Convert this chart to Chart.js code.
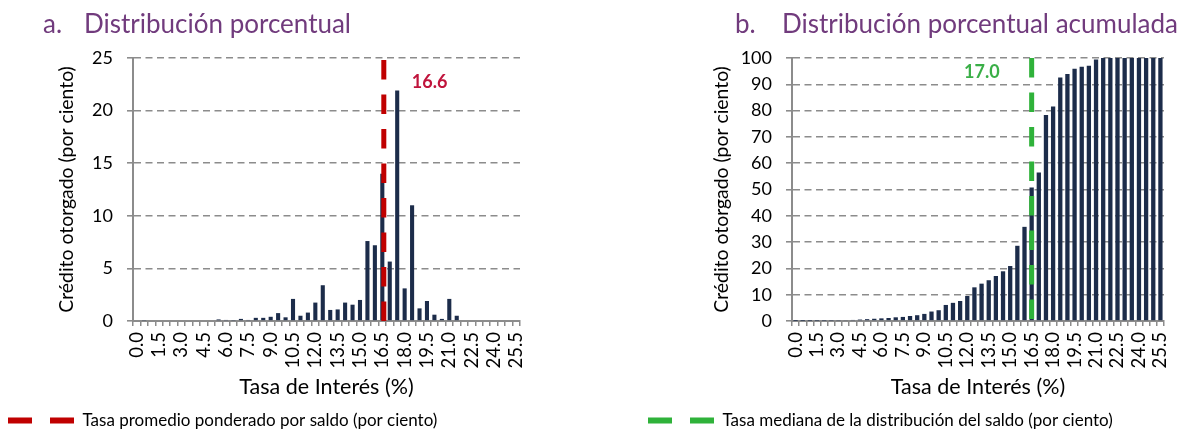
<!DOCTYPE html>
<html lang="es">
<head>
<meta charset="utf-8">
<script src="https://cdn.jsdelivr.net/npm/chart.js@4.4.1/dist/chart.umd.min.js"></script>
<style>
  html, body { margin: 0; padding: 0; background: #fff; width: 1193px; height: 436px; overflow: hidden; }
  #wrap { position: relative; width: 1193px; height: 436px; }
  canvas { position: absolute; top: 0; }
  #chartA { left: 0; }
  #chartB { left: 640px; }
  .ttl { position: absolute; top: 8px; font-family: Lato, "Open Sans", sans-serif; font-size: 26px;
         line-height: 30px; color: #713b7d; white-space: nowrap; }
</style>
</head>
<body>
<div id="wrap">
  <canvas id="chartA" width="640" height="436"></canvas>
  <canvas id="chartB" width="553" height="436"></canvas>
  <div class="ttl" style="left:43px">a.</div>
  <div class="ttl" style="left:84px">Distribución porcentual</div>
  <div class="ttl" style="left:735px">b.</div>
  <div class="ttl" style="left:782px">Distribución porcentual acumulada</div>
</div>
<script>
// Interest-rate bins (lower edge, %), 0.5 points wide
const rateLabels = ['0.0','0.5','1.0','1.5','2.0','2.5','3.0','3.5','4.0','4.5','5.0','5.5','6.0','6.5',
  '7.0','7.5','8.0','8.5','9.0','9.5','10.0','10.5','11.0','11.5','12.0','12.5','13.0','13.5','14.0',
  '14.5','15.0','15.5','16.0','16.5','17.0','17.5','18.0','18.5','19.0','19.5','20.0','20.5','21.0',
  '21.5','22.0','22.5','23.0','23.5','24.0','24.5','25.0','25.5'];

// Rate labels printed under the x axis
const shownRateTicks = ['0.0','1.5','3.0','4.5','6.0','7.5','9.0','10.5','12.0','13.5','15.0','16.5',
  '18.0','19.5','21.0','22.5','24.0','25.5'];

// Share of credit granted in each bin (%)
const shareByRate = [0, 0.05, 0, 0, 0, 0, 0, 0, 0, 0, 0, 0.15, 0.1, 0.05, 0.2, 0.1, 0.3, 0.3, 0.4, 0.75,
  0.35, 2.1, 0.5, 0.8, 1.75, 3.4, 1.05, 1.1, 1.75, 1.55, 2.0, 7.6, 7.2, 14.0, 5.65, 21.9, 3.1, 11.0,
  1.2, 1.9, 0.6, 0.2, 2.1, 0.5, 0, 0, 0, 0, 0, 0, 0, 0];

// Cumulative share of credit up to each bin (%)
const cumulativeShare = [0.02, 0.05, 0.08, 0.1, 0.12, 0.15, 0.2, 0.25, 0.4, 0.55, 0.7, 0.85, 1.0, 1.15,
  1.4, 1.55, 1.9, 2.2, 2.7, 3.6, 4.1, 6.1, 6.9, 7.6, 9.5, 12.8, 14.2, 15.5, 17.1, 18.9, 20.9, 28.6,
  35.8, 50.8, 56.5, 78.3, 81.6, 92.6, 93.9, 95.9, 96.7, 97.1, 99.4, 100, 100, 100, 100, 100, 100,
  100, 100, 100];

const weightedMeanRate = 16.6;   // balance-weighted average rate
const medianRate = 17.0;         // median rate of the balance distribution

const FONT = 'Lato, "Open Sans", sans-serif';
Chart.defaults.font.family = FONT;
Chart.defaults.color = '#000';

const AXIS_GREY = '#8c8c8c';
const BAR_NAVY = '#1c2c4a';

// Writes the rate value next to its reference line
const lineLabel = {
  id: 'lineLabel',
  afterDatasetsDraw(chart, args, opts) {
    const {ctx, chartArea} = chart;
    const x = chart.scales.xRate.getPixelForValue(opts.value);
    ctx.save();
    ctx.font = 'bold 18px ' + FONT;
    ctx.fillStyle = opts.color;
    ctx.textBaseline = 'middle';
    ctx.textAlign = opts.side === 'right' ? 'left' : 'right';
    ctx.fillText(opts.value.toFixed(1), x + (opts.side === 'right' ? opts.gap : -opts.gap), chartArea.top + opts.dy);
    ctx.restore();
  }
};

function legendItems(chart) {
  return chart.data.datasets
    .map((ds, i) => ({ds, i}))
    .filter(o => o.ds.type === 'line')
    .map(({ds, i}) => ({
      text: ds.label, strokeStyle: ds.borderColor, fillStyle: ds.borderColor,
      lineWidth: 6, lineDash: [24, 18], pointStyle: 'line', datasetIndex: i, hidden: false, fontColor: '#000'
    }));
}

function buildPanel(canvasId, p) {
  return new Chart(document.getElementById(canvasId), {
    type: 'bar',
    data: {
      labels: rateLabels,
      datasets: [
        {
          type: 'line', label: p.lineLabel, xAxisID: 'xRate', yAxisID: 'y',
          data: p.lineFromTop
            ? [{x: p.lineValue, y: p.yMax}, {x: p.lineValue, y: 0}]
            : [{x: p.lineValue, y: 0}, {x: p.lineValue, y: p.yMax}],
          borderColor: p.lineColor, borderWidth: 5, borderDash: [19.5, 15], borderCapStyle: 'butt',
          pointRadius: 0, fill: false, order: 0
        },
        {
          type: 'bar', label: 'Crédito otorgado', data: p.values, xAxisID: 'x', yAxisID: 'y',
          backgroundColor: BAR_NAVY, barPercentage: p.barPct, categoryPercentage: 1, grouped: false, order: 1
        }
      ]
    },
    options: {
      responsive: false, animation: false, events: [],
      layout: { padding: { top: 58, left: 0, right: p.padRight, bottom: -3 } },
      scales: {
        x: {
          type: 'category', offset: true,
          afterFit(scale) { scale.height = 83; },
          grid: { offset: true, drawOnChartArea: false, drawTicks: true, tickLength: 5, color: AXIS_GREY, lineWidth: 1.5 },
          border: { display: true, color: AXIS_GREY, width: 2 },
          ticks: {
            autoSkip: false, minRotation: 90, maxRotation: 90, padding: 6, color: '#000',
            font: { size: 18.5 },
            callback(value) {
              const lab = this.getLabelForValue(value);
              return shownRateTicks.includes(lab) ? lab : '';
            }
          },
          title: { display: true, text: 'Tasa de Interés (%)', color: '#000', font: { size: 21.5 }, padding: { top: 0, bottom: 4 } }
        },
        xRate: {
          type: 'linear', axis: 'x', position: 'bottom', display: false, offset: false,
          grid: { offset: false }, bounds: 'data',
          min: p.rateMin, max: p.rateMin + 26
        },
        y: {
          type: 'linear', min: 0, max: p.yMax,
          afterFit(scale) { scale.width = p.yWidth; },
          ticks: { stepSize: p.yStep, padding: 14, color: '#000', font: { size: 18 } },
          grid: { color: AXIS_GREY, lineWidth: 1.6, drawTicks: true, tickLength: 6, tickBorderDash: [] },
          border: { display: true, color: AXIS_GREY, width: 2, dash: [7, 4.5] },
          title: { display: true, text: 'Crédito otorgado (por ciento)', color: '#000', font: { size: 19.4 },
                   padding: { top: p.yTitlePad, bottom: 0 } }
        }
      },
      plugins: {
        tooltip: { enabled: false },
        title: { display: false },
        legend: {
          display: true, position: 'bottom', align: 'start',
          labels: {
            usePointStyle: true, pointStyle: 'line', pointStyleWidth: 66, padding: 8,
            color: '#000', font: { size: 17 }, generateLabels: legendItems
          }
        },
        lineLabel: { value: p.lineValue, color: p.labelColor, side: p.labelSide, gap: p.labelGap, dy: p.labelDy }
      }
    },
    plugins: [lineLabel]
  });
}

// a. Percentage distribution: bins centred on their label, mean drawn at its own rate
buildPanel('chartA', {
  values: shareByRate, yMax: 25, yStep: 5, yWidth: 133, yTitlePad: 55.5, padRight: 120, barPct: 0.55,
  rateMin: -0.25, lineValue: weightedMeanRate, lineFromTop: false,
  lineLabel: 'Tasa promedio ponderado por saldo (por ciento)', lineColor: '#c00000',
  labelColor: '#c0143c', labelSide: 'right', labelGap: 28, labelDy: 24
});

// b. Cumulative distribution: each bar accumulates up to its bin's upper edge
buildPanel('chartB', {
  values: cumulativeShare, yMax: 100, yStep: 10, yWidth: 152, yTitlePad: 70.5, padRight: 29, barPct: 0.6,
  rateMin: 0.25, lineValue: medianRate, lineFromTop: true,
  lineLabel: 'Tasa mediana de la distribución del saldo (por ciento)', lineColor: '#2fb23a',
  labelColor: '#3aaf47', labelSide: 'left', labelGap: 32, labelDy: 14
});
</script>
</body>
</html>
